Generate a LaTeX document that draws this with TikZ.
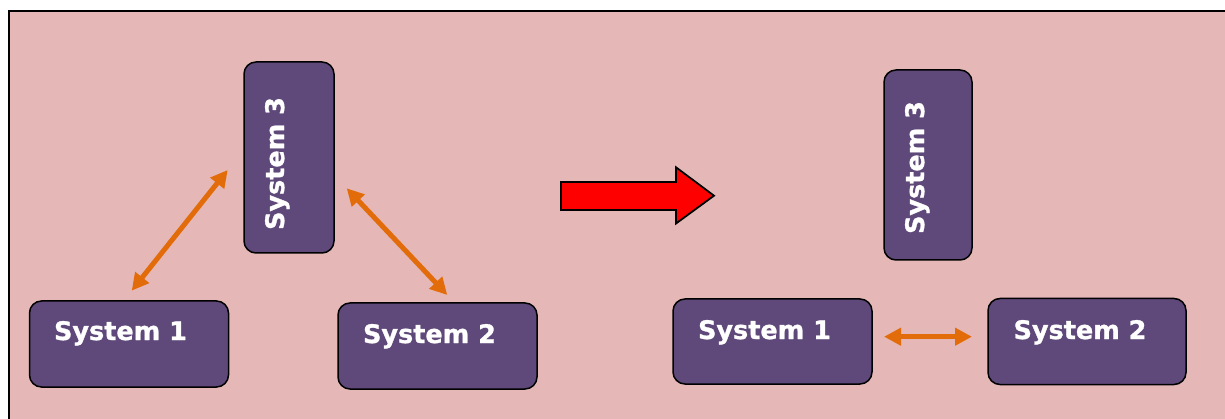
\documentclass[tikz,border=0pt]{standalone}
\usepackage{fontspec}
\newfontfamily\sysfont[FakeBold=1.2]{DejaVu Sans}
\usetikzlibrary{arrows.meta}
\definecolor{bgpink}{HTML}{E5B8B7}
\definecolor{boxpurple}{HTML}{5F497A}
\definecolor{arrorange}{HTML}{E36C0A}
\definecolor{bigred}{HTML}{FF0000}
\tikzset{
  sysbox/.style={draw=black, line width=1.5pt, fill=boxpurple, rounded corners=12pt, inner sep=0pt},
  systext/.style={text=white, font=\sysfont\bfseries\fontsize{25.5}{29}\selectfont, inner sep=0pt, anchor=base},
  dblarrow/.style={draw=arrorange, line width=5pt, {Triangle[length=17pt,width=17pt]}-{Triangle[length=17pt,width=17pt]}},
  bigarrow/.style={draw=black, line width=1.8pt, fill=bigred, line join=miter}
}
\begin{document}
\begin{tikzpicture}[x=1pt, y=-1pt]
\useasboundingbox (0,0) rectangle (1225,419);
\fill[white] (0,0) rectangle (1225,419);
\fill[bgpink] (9,11) rectangle (1226,420);
\draw[black, line width=2pt] (9,420) -- (9,11) -- (1226,11);

% left group
\node[sysbox, minimum width=199pt, minimum height=86pt] (s1) at (129,344) {};
\node[systext] (s1t) at (120.5,340) {System 1};
\node[sysbox, minimum width=199pt, minimum height=86pt] (s2) at (437.5,346) {};
\node[systext] (s2t) at (429.5,343) {System 2};
\node[sysbox, minimum width=90pt, minimum height=191pt] (s3) at (289,157.5) {};
\node[systext, rotate=90] (s3t) at (284,163.5) {System 3};

\coordinate (a1a) at (131.7,290.7);
\coordinate (a1b) at (227.7,170);
\coordinate (a2a) at (346.7,188.3);
\coordinate (a2b) at (447.3,295);
\draw[dblarrow] (a1a) -- (a1b);
\draw[dblarrow] (a2a) -- (a2b);

% big red arrow
\draw[bigarrow] (561,182) -- (676,182) -- (676,167.3) -- (714,195.7) -- (676,223.5) -- (676,210) -- (561,210) -- cycle;

% right group
\node[sysbox, minimum width=199pt, minimum height=85pt] (r1) at (772.5,341.5) {};
\node[systext] (r1t) at (764.5,339) {System 1};
\node[sysbox, minimum width=198pt, minimum height=86pt] (r2) at (1087,341.5) {};
\node[systext] (r2t) at (1080,339) {System 2};
\node[sysbox, minimum width=88pt, minimum height=190pt] (r3) at (928,165) {};
\node[systext, rotate=90] (r3t) at (924,167.5) {System 3};

\coordinate (a3a) at (884,336.7);
\coordinate (a3b) at (972,336.7);
\draw[dblarrow] (a3a) -- (a3b);
\end{tikzpicture}
\end{document}
